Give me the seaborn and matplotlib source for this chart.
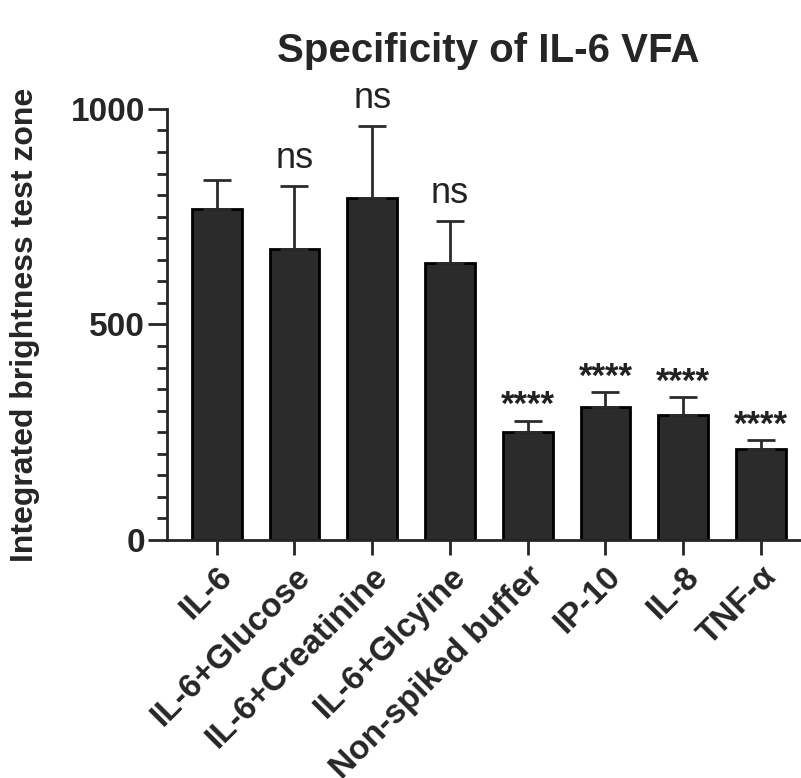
import numpy as np
import matplotlib.pyplot as plt
import seaborn as sns
import pandas as pd

# values
conditions = ['IL-6', 'IL-6+Glucose', 'IL-6+Creatinine', 'IL-6+Glcyine',
              'Non-spiked buffer', 'IP-10', 'IL-8', 'TNF-α']
brightness = [767, 674, 793, 642, 251, 309, 291, 211]
err_up = [67, 148, 167, 98, 26, 34, 40, 21]
signif = ['', 'ns', 'ns', 'ns', '****', '****', '****', '****']

df = pd.DataFrame({'condition': conditions, 'brightness': brightness})

sns.set_style('ticks')
plt.rcParams['font.family'] = ['Liberation Sans', 'DejaVu Sans']

fig = plt.figure(figsize=(8.01, 7.78), dpi=100)
ax = fig.add_axes([0.2085, 0.306, 0.79, 0.554])

sns.barplot(data=df, x='condition', y='brightness', color='#2b2b2b',
            edgecolor='black', linewidth=2, width=0.64, saturation=1, ax=ax)

xpos = np.arange(len(conditions))
ax.errorbar(xpos, brightness, yerr=[np.zeros(len(err_up)), err_up], fmt='none',
            ecolor='#2b2b2b', elinewidth=2, capsize=10, capthick=2)

tops = np.array(brightness) + np.array(err_up)
for x, top, s in zip(xpos, tops, signif):
    if s == 'ns':
        ax.annotate(s, (x, top), xytext=(0, 13), textcoords='offset points',
                    ha='center', va='baseline', fontsize=26, color='#222222')
    elif s:
        # asterisks drawn bold so they read as solid stars
        ax.annotate(s, (x, top), xytext=(0, 4), textcoords='offset points',
                    ha='center', va='baseline', fontsize=25, fontweight='bold',
                    color='#222222')

ax.set_ylim(0, 1000)
ax.set_xlim(-0.64, 7.5)
ax.set_yticks([0, 500, 1000])
ax.set_yticks(np.arange(0, 1001, 50), minor=True)
ax.tick_params(axis='y', which='major', length=14, width=2, labelsize=24, pad=2)
ax.tick_params(axis='y', which='minor', length=7, width=2)
ax.tick_params(axis='x', length=11, width=2, pad=4)
for lab in ax.get_yticklabels():
    lab.set_fontweight('bold')
ax.set_xticks(xpos)
ax.set_xticklabels(conditions, rotation=45, ha='right',
                   rotation_mode='anchor', fontweight='bold', fontsize=24)

ax.set_xlabel('')
ax.set_ylabel('Integrated brightness test zone', fontsize=23, fontweight='bold')
ax.yaxis.set_label_coords(-0.2, 0.5)
sns.despine(ax=ax)
for sp in ['left', 'bottom']:
    ax.spines[sp].set_linewidth(2)

fig.text(0.61, 0.92, 'Specificity of IL-6 VFA', fontsize=29, fontweight='bold',
         ha='center', va='baseline')

fig.savefig('out.png', dpi=100)
